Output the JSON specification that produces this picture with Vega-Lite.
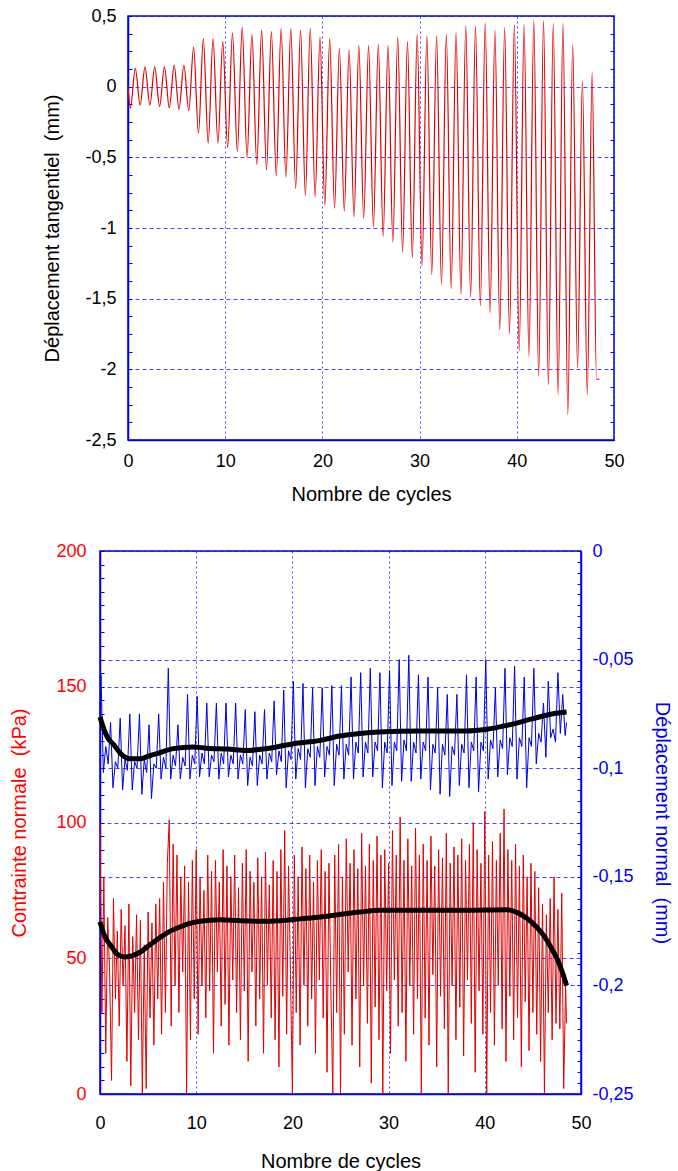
{
  "$schema": "https://vega.github.io/schema/vega-lite/v6.json",
  "padding": {"left": 2, "top": 6, "right": 0, "bottom": 0},
  "autosize": {"type": "pad"},
  "background": "white",
  "columns": 2,
  "align": "none",
  "spacing": {"row": 36, "column": 0},
  "config": {
    "font": "Liberation Sans",
    "view": {"stroke": "#0000ee", "strokeWidth": 1.5},
    "axis": {"labelFontSize": 18, "titleFontSize": 20, "titleFontWeight": "normal", "domainColor": "#0000ee", "domainWidth": 1.5, "tickColor": "#0000ee", "tickWidth": 1, "tickSize": 0, "gridColor": "#1a1aff", "gridWidth": 1, "labelColor": "black", "titleColor": "black", "labelFlush": false, "labelOverlap": false}
  },
  "datasets": {
    "top": [
      {"c": 0, "v": 0.0}, {"c": 0.25, "v": -0.15}, {"c": 0.75, "v": 0.13},
      {"c": 1.25, "v": -0.13}, {"c": 1.75, "v": 0.14},
      {"c": 2.25, "v": -0.13}, {"c": 2.75, "v": 0.14},
      {"c": 3.25, "v": -0.14}, {"c": 3.75, "v": 0.14},
      {"c": 4.25, "v": -0.15}, {"c": 4.75, "v": 0.15},
      {"c": 5.25, "v": -0.16}, {"c": 5.75, "v": 0.15},
      {"c": 6.25, "v": -0.17}, {"c": 6.75, "v": 0.28},
      {"c": 7.25, "v": -0.33}, {"c": 7.75, "v": 0.34},
      {"c": 8.25, "v": -0.40}, {"c": 8.75, "v": 0.34},
      {"c": 9.25, "v": -0.40}, {"c": 9.75, "v": 0.32},
      {"c": 10.25, "v": -0.43}, {"c": 10.75, "v": 0.38},
      {"c": 11.25, "v": -0.46}, {"c": 11.75, "v": 0.42},
      {"c": 12.25, "v": -0.50}, {"c": 12.75, "v": 0.37},
      {"c": 13.25, "v": -0.55}, {"c": 13.75, "v": 0.40},
      {"c": 14.25, "v": -0.59}, {"c": 14.75, "v": 0.39},
      {"c": 15.25, "v": -0.63}, {"c": 15.75, "v": 0.41},
      {"c": 16.25, "v": -0.64}, {"c": 16.75, "v": 0.41},
      {"c": 17.25, "v": -0.72}, {"c": 17.75, "v": 0.40},
      {"c": 18.25, "v": -0.77}, {"c": 18.75, "v": 0.41},
      {"c": 19.25, "v": -0.78}, {"c": 19.75, "v": 0.35},
      {"c": 20.25, "v": -0.84}, {"c": 20.75, "v": 0.34},
      {"c": 21.25, "v": -0.86}, {"c": 21.75, "v": 0.27},
      {"c": 22.25, "v": -0.88}, {"c": 22.75, "v": 0.26},
      {"c": 23.25, "v": -0.92}, {"c": 23.75, "v": 0.29},
      {"c": 24.25, "v": -0.93}, {"c": 24.75, "v": 0.29},
      {"c": 25.25, "v": -0.99}, {"c": 25.75, "v": 0.30},
      {"c": 26.25, "v": -1.06}, {"c": 26.75, "v": 0.29},
      {"c": 27.25, "v": -1.10}, {"c": 27.75, "v": 0.35},
      {"c": 28.25, "v": -1.17}, {"c": 28.75, "v": 0.32},
      {"c": 29.25, "v": -1.21}, {"c": 29.75, "v": 0.37},
      {"c": 30.25, "v": -1.27}, {"c": 30.75, "v": 0.36},
      {"c": 31.25, "v": -1.33}, {"c": 31.75, "v": 0.36},
      {"c": 32.25, "v": -1.40}, {"c": 32.75, "v": 0.37},
      {"c": 33.25, "v": -1.43}, {"c": 33.75, "v": 0.38},
      {"c": 34.25, "v": -1.47}, {"c": 34.75, "v": 0.43},
      {"c": 35.25, "v": -1.49}, {"c": 35.75, "v": 0.43},
      {"c": 36.25, "v": -1.55}, {"c": 36.75, "v": 0.45},
      {"c": 37.25, "v": -1.60}, {"c": 37.75, "v": 0.40},
      {"c": 38.25, "v": -1.72}, {"c": 38.75, "v": 0.42},
      {"c": 39.25, "v": -1.75}, {"c": 39.75, "v": 0.44},
      {"c": 40.25, "v": -1.87}, {"c": 40.75, "v": 0.44},
      {"c": 41.25, "v": -1.91}, {"c": 41.75, "v": 0.47},
      {"c": 42.25, "v": -2.05}, {"c": 42.75, "v": 0.47},
      {"c": 43.25, "v": -2.11}, {"c": 43.75, "v": 0.45},
      {"c": 44.25, "v": -2.18}, {"c": 44.75, "v": 0.45},
      {"c": 45.25, "v": -2.32}, {"c": 45.75, "v": 0.30},
      {"c": 46.25, "v": -1.99}, {"c": 46.75, "v": 0.04},
      {"c": 47.25, "v": -2.18}, {"c": 47.75, "v": 0.10},
      {"c": 48.2, "v": -2.07}, {"c": 48.5, "v": -2.07}
    ],
    "stress": [
      {"c": 0.0, "s": 100}, {"c": 0.2, "s": 30}, {"c": 0.4, "s": 80}, {"c": 0.6, "s": 15}, {"c": 0.8, "s": 65},
      {"c": 1.0, "s": 45}, {"c": 1.2, "s": 5}, {"c": 1.4, "s": 72}, {"c": 1.6, "s": 35}, {"c": 1.8, "s": 60},
      {"c": 2.0, "s": 25}, {"c": 2.2, "s": 68}, {"c": 2.4, "s": 40}, {"c": 2.6, "s": 62}, {"c": 2.8, "s": 12},
      {"c": 3.0, "s": 70}, {"c": 3.2, "s": 3}, {"c": 3.4, "s": 58}, {"c": 3.6, "s": 30}, {"c": 3.8, "s": 66},
      {"c": 4.0, "s": 20}, {"c": 4.2, "s": 64}, {"c": 4.4, "s": 0}, {"c": 4.6, "s": 55}, {"c": 4.8, "s": 2},
      {"c": 5.0, "s": 67}, {"c": 5.2, "s": 28}, {"c": 5.4, "s": 63}, {"c": 5.6, "s": 18}, {"c": 5.8, "s": 70},
      {"c": 6.0, "s": 35}, {"c": 6.2, "s": 72}, {"c": 6.4, "s": 22}, {"c": 6.6, "s": 78}, {"c": 6.8, "s": 30},
      {"c": 7.0, "s": 85}, {"c": 7.2, "s": 101}, {"c": 7.4, "s": 25}, {"c": 7.6, "s": 92}, {"c": 7.8, "s": 40},
      {"c": 8.0, "s": 88}, {"c": 8.2, "s": 30}, {"c": 8.4, "s": 80}, {"c": 8.6, "s": 45}, {"c": 8.8, "s": 84},
      {"c": 9.0, "s": 0}, {"c": 9.2, "s": 78}, {"c": 9.4, "s": 20}, {"c": 9.6, "s": 86}, {"c": 9.8, "s": 35},
      {"c": 10.0, "s": 90}, {"c": 10.2, "s": 22}, {"c": 10.4, "s": 80}, {"c": 10.6, "s": 40}, {"c": 10.8, "s": 75},
      {"c": 11.0, "s": 28}, {"c": 11.2, "s": 88}, {"c": 11.4, "s": 38}, {"c": 11.6, "s": 82}, {"c": 11.8, "s": 15},
      {"c": 12.0, "s": 86}, {"c": 12.2, "s": 45}, {"c": 12.4, "s": 78}, {"c": 12.6, "s": 25}, {"c": 12.8, "s": 90},
      {"c": 13.0, "s": 33}, {"c": 13.2, "s": 84}, {"c": 13.4, "s": 18}, {"c": 13.6, "s": 80}, {"c": 13.8, "s": 42},
      {"c": 14.0, "s": 88}, {"c": 14.2, "s": 30}, {"c": 14.4, "s": 76}, {"c": 14.6, "s": 20}, {"c": 14.8, "s": 85},
      {"c": 15.0, "s": 38}, {"c": 15.2, "s": 90}, {"c": 15.4, "s": 12}, {"c": 15.6, "s": 82}, {"c": 15.8, "s": 45},
      {"c": 16.0, "s": 78}, {"c": 16.2, "s": 25}, {"c": 16.4, "s": 87}, {"c": 16.6, "s": 35}, {"c": 16.8, "s": 80},
      {"c": 17.0, "s": 15}, {"c": 17.2, "s": 89}, {"c": 17.4, "s": 40}, {"c": 17.6, "s": 77}, {"c": 17.8, "s": 28},
      {"c": 18.0, "s": 86}, {"c": 18.2, "s": 20}, {"c": 18.4, "s": 82}, {"c": 18.6, "s": 10}, {"c": 18.8, "s": 90},
      {"c": 19.0, "s": 36}, {"c": 19.2, "s": 97}, {"c": 19.4, "s": 22}, {"c": 19.6, "s": 84}, {"c": 19.8, "s": 44},
      {"c": 20.0, "s": 0}, {"c": 20.2, "s": 88}, {"c": 20.4, "s": 30}, {"c": 20.6, "s": 80}, {"c": 20.8, "s": 18},
      {"c": 21.0, "s": 91}, {"c": 21.2, "s": 40}, {"c": 21.4, "s": 83}, {"c": 21.6, "s": 25}, {"c": 21.8, "s": 88},
      {"c": 22.0, "s": 35}, {"c": 22.2, "s": 78}, {"c": 22.4, "s": 15}, {"c": 22.6, "s": 86}, {"c": 22.8, "s": 42},
      {"c": 23.0, "s": 90}, {"c": 23.2, "s": 28}, {"c": 23.4, "s": 82}, {"c": 23.6, "s": 8}, {"c": 23.8, "s": 85},
      {"c": 24.0, "s": 38}, {"c": 24.2, "s": 0}, {"c": 24.4, "s": 88}, {"c": 24.6, "s": 30}, {"c": 24.8, "s": 92},
      {"c": 25.0, "s": 0}, {"c": 25.2, "s": 80}, {"c": 25.4, "s": 22}, {"c": 25.6, "s": 94}, {"c": 25.8, "s": 45},
      {"c": 26.0, "s": 85}, {"c": 26.2, "s": 18}, {"c": 26.4, "s": 90}, {"c": 26.6, "s": 35}, {"c": 26.8, "s": 83},
      {"c": 27.0, "s": 10}, {"c": 27.2, "s": 96}, {"c": 27.4, "s": 40}, {"c": 27.6, "s": 84}, {"c": 27.8, "s": 26},
      {"c": 28.0, "s": 92}, {"c": 28.2, "s": 4}, {"c": 28.4, "s": 86}, {"c": 28.6, "s": 32}, {"c": 28.8, "s": 95},
      {"c": 29.0, "s": 20}, {"c": 29.2, "s": 88}, {"c": 29.4, "s": 0}, {"c": 29.6, "s": 90}, {"c": 29.8, "s": 38},
      {"c": 30.0, "s": 85}, {"c": 30.2, "s": 15}, {"c": 30.4, "s": 97}, {"c": 30.6, "s": 42}, {"c": 30.8, "s": 88},
      {"c": 31.0, "s": 25}, {"c": 31.2, "s": 102}, {"c": 31.4, "s": 30}, {"c": 31.6, "s": 86}, {"c": 31.8, "s": 12},
      {"c": 32.0, "s": 94}, {"c": 32.2, "s": 40}, {"c": 32.4, "s": 84}, {"c": 32.6, "s": 22}, {"c": 32.8, "s": 98},
      {"c": 33.0, "s": 35}, {"c": 33.2, "s": 88}, {"c": 33.4, "s": 0}, {"c": 33.6, "s": 92}, {"c": 33.8, "s": 28},
      {"c": 34.0, "s": 86}, {"c": 34.2, "s": 18}, {"c": 34.4, "s": 95}, {"c": 34.6, "s": 44}, {"c": 34.8, "s": 84},
      {"c": 35.0, "s": 10}, {"c": 35.2, "s": 90}, {"c": 35.4, "s": 36}, {"c": 35.6, "s": 87}, {"c": 35.8, "s": 24},
      {"c": 36.0, "s": 96}, {"c": 36.2, "s": 0}, {"c": 36.4, "s": 85}, {"c": 36.6, "s": 40}, {"c": 36.8, "s": 91},
      {"c": 37.0, "s": 20}, {"c": 37.2, "s": 88}, {"c": 37.4, "s": 32}, {"c": 37.6, "s": 94}, {"c": 37.8, "s": 14},
      {"c": 38.0, "s": 86}, {"c": 38.2, "s": 42}, {"c": 38.4, "s": 92}, {"c": 38.6, "s": 26}, {"c": 38.8, "s": 100},
      {"c": 39.0, "s": 8}, {"c": 39.2, "s": 90}, {"c": 39.4, "s": 38}, {"c": 39.6, "s": 85}, {"c": 39.8, "s": 22},
      {"c": 40.0, "s": 104}, {"c": 40.2, "s": 0}, {"c": 40.4, "s": 88}, {"c": 40.6, "s": 30}, {"c": 40.8, "s": 93},
      {"c": 41.0, "s": 18}, {"c": 41.2, "s": 86}, {"c": 41.4, "s": 40}, {"c": 41.6, "s": 96}, {"c": 41.8, "s": 24},
      {"c": 42.0, "s": 105}, {"c": 42.2, "s": 12}, {"c": 42.4, "s": 90}, {"c": 42.6, "s": 36}, {"c": 42.8, "s": 86},
      {"c": 43.0, "s": 20}, {"c": 43.2, "s": 92}, {"c": 43.4, "s": 28}, {"c": 43.6, "s": 84}, {"c": 43.8, "s": 10},
      {"c": 44.0, "s": 88}, {"c": 44.2, "s": 34}, {"c": 44.4, "s": 80}, {"c": 44.6, "s": 16}, {"c": 44.8, "s": 85},
      {"c": 45.0, "s": 30}, {"c": 45.2, "s": 82}, {"c": 45.4, "s": 22}, {"c": 45.6, "s": 76}, {"c": 45.8, "s": 12},
      {"c": 46.0, "s": 70}, {"c": 46.2, "s": 0}, {"c": 46.4, "s": 66}, {"c": 46.6, "s": 30}, {"c": 46.8, "s": 72},
      {"c": 47.0, "s": 20}, {"c": 47.2, "s": 80}, {"c": 47.4, "s": 26}, {"c": 47.6, "s": 68}, {"c": 47.8, "s": 24},
      {"c": 48.0, "s": 74}, {"c": 48.2, "s": 2}, {"c": 48.4, "s": 40}, {"c": 48.5, "s": 26}
    ],
    "fitS": [
      {"c": 0, "s": 63.4}, {"c": 0.5, "s": 58}, {"c": 1.1, "s": 54.8}, {"c": 1.8, "s": 51.5}, {"c": 2.5, "s": 50.5},
      {"c": 3.2, "s": 50.8}, {"c": 4.2, "s": 52.3}, {"c": 5.2, "s": 55}, {"c": 6.3, "s": 57.8}, {"c": 7.3, "s": 60},
      {"c": 8.3, "s": 61.5}, {"c": 9.3, "s": 62.8}, {"c": 10.4, "s": 63.6}, {"c": 12.5, "s": 64.2}, {"c": 14.6, "s": 63.8},
      {"c": 16.7, "s": 63.6}, {"c": 18.7, "s": 63.8}, {"c": 20.8, "s": 64.5}, {"c": 22.9, "s": 65.2}, {"c": 24.9, "s": 66.1},
      {"c": 27, "s": 67}, {"c": 29, "s": 67.7}, {"c": 33.2, "s": 67.7}, {"c": 38, "s": 67.7}, {"c": 42.3, "s": 67.9},
      {"c": 43.4, "s": 66.8}, {"c": 44.4, "s": 64.6}, {"c": 45.3, "s": 61.8}, {"c": 46.1, "s": 58.5}, {"c": 46.8, "s": 54.5},
      {"c": 47.5, "s": 49.9}, {"c": 48, "s": 45.5}, {"c": 48.5, "s": 40.0}
    ],
    "disp": [
      {"c": 0, "d": -0.075},
      {"c": 0.1, "d": -0.057}, {"c": 0.35, "d": -0.102}, {"c": 0.6, "d": -0.090}, {"c": 0.85, "d": -0.098},
      {"c": 1.1, "d": -0.079}, {"c": 1.35, "d": -0.109}, {"c": 1.6, "d": -0.097}, {"c": 1.85, "d": -0.100},
      {"c": 2.1, "d": -0.077}, {"c": 2.35, "d": -0.110}, {"c": 2.6, "d": -0.096}, {"c": 2.85, "d": -0.101},
      {"c": 3.1, "d": -0.075}, {"c": 3.35, "d": -0.110}, {"c": 3.6, "d": -0.097}, {"c": 3.85, "d": -0.100},
      {"c": 4.1, "d": -0.075}, {"c": 4.35, "d": -0.112}, {"c": 4.6, "d": -0.096}, {"c": 4.85, "d": -0.102},
      {"c": 5.1, "d": -0.080}, {"c": 5.35, "d": -0.114}, {"c": 5.6, "d": -0.098}, {"c": 5.85, "d": -0.100},
      {"c": 6.1, "d": -0.075}, {"c": 6.35, "d": -0.105}, {"c": 6.6, "d": -0.095}, {"c": 6.85, "d": -0.100},
      {"c": 7.1, "d": -0.054}, {"c": 7.35, "d": -0.105}, {"c": 7.6, "d": -0.094}, {"c": 7.85, "d": -0.099},
      {"c": 8.1, "d": -0.080}, {"c": 8.35, "d": -0.105}, {"c": 8.6, "d": -0.095}, {"c": 8.85, "d": -0.099},
      {"c": 9.1, "d": -0.066}, {"c": 9.35, "d": -0.105}, {"c": 9.6, "d": -0.094}, {"c": 9.85, "d": -0.098},
      {"c": 10.1, "d": -0.067}, {"c": 10.35, "d": -0.104}, {"c": 10.6, "d": -0.093}, {"c": 10.85, "d": -0.098},
      {"c": 11.1, "d": -0.070}, {"c": 11.35, "d": -0.104}, {"c": 11.6, "d": -0.094}, {"c": 11.85, "d": -0.097},
      {"c": 12.1, "d": -0.070}, {"c": 12.35, "d": -0.105}, {"c": 12.6, "d": -0.093}, {"c": 12.85, "d": -0.098},
      {"c": 13.1, "d": -0.070}, {"c": 13.35, "d": -0.104}, {"c": 13.6, "d": -0.094}, {"c": 13.85, "d": -0.098},
      {"c": 14.1, "d": -0.070}, {"c": 14.35, "d": -0.105}, {"c": 14.6, "d": -0.094}, {"c": 14.85, "d": -0.098},
      {"c": 15.1, "d": -0.073}, {"c": 15.35, "d": -0.108}, {"c": 15.6, "d": -0.095}, {"c": 15.85, "d": -0.099},
      {"c": 16.1, "d": -0.074}, {"c": 16.35, "d": -0.108}, {"c": 16.6, "d": -0.094}, {"c": 16.85, "d": -0.098},
      {"c": 17.1, "d": -0.073}, {"c": 17.35, "d": -0.105}, {"c": 17.6, "d": -0.093}, {"c": 17.85, "d": -0.097},
      {"c": 18.1, "d": -0.069}, {"c": 18.35, "d": -0.103}, {"c": 18.6, "d": -0.092}, {"c": 18.85, "d": -0.097},
      {"c": 19.1, "d": -0.064}, {"c": 19.35, "d": -0.109}, {"c": 19.6, "d": -0.092}, {"c": 19.85, "d": -0.096},
      {"c": 20.1, "d": -0.060}, {"c": 20.35, "d": -0.105}, {"c": 20.6, "d": -0.091}, {"c": 20.85, "d": -0.096},
      {"c": 21.1, "d": -0.061}, {"c": 21.35, "d": -0.109}, {"c": 21.6, "d": -0.091}, {"c": 21.85, "d": -0.095},
      {"c": 22.1, "d": -0.063}, {"c": 22.35, "d": -0.108}, {"c": 22.6, "d": -0.090}, {"c": 22.85, "d": -0.095},
      {"c": 23.1, "d": -0.063}, {"c": 23.35, "d": -0.104}, {"c": 23.6, "d": -0.090}, {"c": 23.85, "d": -0.094},
      {"c": 24.1, "d": -0.062}, {"c": 24.35, "d": -0.108}, {"c": 24.6, "d": -0.089}, {"c": 24.85, "d": -0.094},
      {"c": 25.1, "d": -0.062}, {"c": 25.35, "d": -0.105}, {"c": 25.6, "d": -0.089}, {"c": 25.85, "d": -0.094},
      {"c": 26.1, "d": -0.058}, {"c": 26.35, "d": -0.105}, {"c": 26.6, "d": -0.088}, {"c": 26.85, "d": -0.093},
      {"c": 27.1, "d": -0.056}, {"c": 27.35, "d": -0.104}, {"c": 27.6, "d": -0.088}, {"c": 27.85, "d": -0.093},
      {"c": 28.1, "d": -0.054}, {"c": 28.35, "d": -0.104}, {"c": 28.6, "d": -0.088}, {"c": 28.85, "d": -0.092},
      {"c": 29.1, "d": -0.056}, {"c": 29.35, "d": -0.109}, {"c": 29.6, "d": -0.088}, {"c": 29.85, "d": -0.093},
      {"c": 30.1, "d": -0.055}, {"c": 30.35, "d": -0.108}, {"c": 30.6, "d": -0.088}, {"c": 30.85, "d": -0.092},
      {"c": 31.1, "d": -0.050}, {"c": 31.35, "d": -0.106}, {"c": 31.6, "d": -0.087}, {"c": 31.85, "d": -0.092},
      {"c": 32.1, "d": -0.048}, {"c": 32.35, "d": -0.106}, {"c": 32.6, "d": -0.088}, {"c": 32.85, "d": -0.093},
      {"c": 33.1, "d": -0.057}, {"c": 33.35, "d": -0.105}, {"c": 33.6, "d": -0.088}, {"c": 33.85, "d": -0.092},
      {"c": 34.1, "d": -0.058}, {"c": 34.35, "d": -0.110}, {"c": 34.6, "d": -0.089}, {"c": 34.85, "d": -0.093},
      {"c": 35.1, "d": -0.063}, {"c": 35.35, "d": -0.112}, {"c": 35.6, "d": -0.089}, {"c": 35.85, "d": -0.094},
      {"c": 36.1, "d": -0.066}, {"c": 36.35, "d": -0.113}, {"c": 36.6, "d": -0.090}, {"c": 36.85, "d": -0.094},
      {"c": 37.1, "d": -0.066}, {"c": 37.35, "d": -0.108}, {"c": 37.6, "d": -0.089}, {"c": 37.85, "d": -0.093},
      {"c": 38.1, "d": -0.057}, {"c": 38.35, "d": -0.109}, {"c": 38.6, "d": -0.088}, {"c": 38.85, "d": -0.092},
      {"c": 39.1, "d": -0.058}, {"c": 39.35, "d": -0.111}, {"c": 39.6, "d": -0.088}, {"c": 39.85, "d": -0.092},
      {"c": 40.1, "d": -0.050}, {"c": 40.35, "d": -0.105}, {"c": 40.6, "d": -0.087}, {"c": 40.85, "d": -0.091},
      {"c": 41.1, "d": -0.063}, {"c": 41.35, "d": -0.104}, {"c": 41.6, "d": -0.087}, {"c": 41.85, "d": -0.091},
      {"c": 42.1, "d": -0.054}, {"c": 42.35, "d": -0.103}, {"c": 42.6, "d": -0.086}, {"c": 42.85, "d": -0.090},
      {"c": 43.1, "d": -0.053}, {"c": 43.35, "d": -0.105}, {"c": 43.6, "d": -0.086}, {"c": 43.85, "d": -0.090},
      {"c": 44.1, "d": -0.058}, {"c": 44.35, "d": -0.109}, {"c": 44.6, "d": -0.086}, {"c": 44.85, "d": -0.090},
      {"c": 45.1, "d": -0.054}, {"c": 45.35, "d": -0.098}, {"c": 45.6, "d": -0.084}, {"c": 45.85, "d": -0.088},
      {"c": 46.1, "d": -0.070}, {"c": 46.35, "d": -0.095}, {"c": 46.6, "d": -0.060}, {"c": 46.85, "d": -0.086},
      {"c": 47.1, "d": -0.082}, {"c": 47.35, "d": -0.088}, {"c": 47.6, "d": -0.056}, {"c": 47.85, "d": -0.084},
      {"c": 48.1, "d": -0.066}, {"c": 48.35, "d": -0.085}, {"c": 48.5, "d": -0.079}
    ],
    "fitD": [
      {"c": 0, "d": -0.0764}, {"c": 0.4, "d": -0.082}, {"c": 0.8, "d": -0.086}, {"c": 1.4, "d": -0.089}, {"c": 2.2, "d": -0.0935},
      {"c": 3.1, "d": -0.0956}, {"c": 4.2, "d": -0.0956}, {"c": 5.0, "d": -0.0945}, {"c": 5.9, "d": -0.0933}, {"c": 7.6, "d": -0.091},
      {"c": 9.7, "d": -0.0902}, {"c": 11.1, "d": -0.0908}, {"c": 13.2, "d": -0.0912}, {"c": 15.3, "d": -0.0918}, {"c": 17.3, "d": -0.091},
      {"c": 20.1, "d": -0.0887}, {"c": 22.9, "d": -0.0872}, {"c": 24.9, "d": -0.0852}, {"c": 27, "d": -0.084}, {"c": 29, "d": -0.0833},
      {"c": 33.2, "d": -0.0829}, {"c": 38, "d": -0.0829}, {"c": 40.2, "d": -0.0821}, {"c": 42.3, "d": -0.0803}, {"c": 45, "d": -0.0772},
      {"c": 47.1, "d": -0.0749}, {"c": 48.5, "d": -0.0741}
    ],
    "none": [{"k": 0}]
  },
  "concat": [
    {
      "width": 1,
      "height": 1,
      "view": {"stroke": null},
      "data": {"name": "none"},
      "mark": {"type": "point", "opacity": 0}
    },
    {
      "width": 486,
      "height": 424,
      "layer": [
        {
          "data": {"name": "top"},
          "mark": {"type": "line", "color": "#e00000", "strokeWidth": 1.2, "interpolate": "monotone"},
          "encoding": {
            "x": {"field": "c", "type": "quantitative", "scale": {"domain": [0, 50], "nice": false},
              "axis": {"orient": "bottom", "values": [0, 10, 20, 30, 40, 50], "title": "Nombre de cycles", "grid": true, "gridOpacity": 0.8, "gridDash": [2, 3], "labelPadding": 12, "titlePadding": 14}},
            "y": {"field": "v", "type": "quantitative", "scale": {"domain": [-2.5, 0.5], "nice": false},
              "axis": {"orient": "left", "values": [-2.5, -2.375, -2.25, -2.125, -2, -1.875, -1.75, -1.625, -1.5, -1.375, -1.25, -1.125, -1, -0.875, -0.75, -0.625, -0.5, -0.375, -0.25, -0.125, 0, 0.125, 0.25, 0.375, 0.5],
                "labelExpr": "abs(datum.value * 2 - round(datum.value * 2)) < 0.001 ? replace(toString(datum.value), '.', ',') : ''",
                "title": "Déplacement tangentiel\u00a0 (mm)", "grid": true, "gridDash": [4, 3],
                "gridOpacity": {"condition": {"test": "abs(datum.value * 2 - round(datum.value * 2)) < 0.001", "value": 0.8}, "value": 0},
                "tickSize": -4, "labelPadding": 16, "titlePadding": 22}}
          }
        },
        {
          "data": {"name": "top"},
          "mark": {"type": "line", "opacity": 0},
          "encoding": {
            "x": {"field": "c", "type": "quantitative", "scale": {"domain": [0, 50], "nice": false},
              "axis": {"orient": "bottom", "values": [0, 10, 20, 30, 40, 50], "title": "Nombre de cycles", "grid": true, "gridOpacity": 0.8, "gridDash": [2, 3], "labelPadding": 12, "titlePadding": 14}},
            "y": {"field": "v", "type": "quantitative",
              "axis": {"orient": "left", "labels": false, "ticks": false, "domain": false, "grid": false, "title": "x", "titleOpacity": 0, "titlePadding": 98}}
          }
        },
        {
          "data": {"name": "top"},
          "mark": {"type": "line", "opacity": 0},
          "encoding": {
            "x": {"field": "c", "type": "quantitative", "scale": {"domain": [0, 50], "nice": false},
              "axis": {"orient": "bottom", "values": [0, 10, 20, 30, 40, 50], "title": "Nombre de cycles", "grid": true, "gridOpacity": 0.8, "gridDash": [2, 3], "labelPadding": 12, "titlePadding": 14}},
            "y": {"field": "v", "type": "quantitative",
              "axis": {"orient": "right", "values": [-2.5, -2.375, -2.25, -2.125, -2, -1.875, -1.75, -1.625, -1.5, -1.375, -1.25, -1.125, -1, -0.875, -0.75, -0.625, -0.5, -0.375, -0.25, -0.125, 0, 0.125, 0.25, 0.375, 0.5],
                "labels": false, "domain": false, "grid": false, "tickSize": -4, "title": null}}
          }
        }
      ],
      "resolve": {"axis": {"y": "independent"}}
    },
    {
      "width": 1,
      "height": 1,
      "view": {"stroke": null},
      "data": {"name": "none"},
      "mark": {"type": "point", "opacity": 0}
    },
    {
      "width": 481,
      "height": 543,
      "layer": [
        {
          "layer": [
            {
              "data": {"name": "stress"},
              "mark": {"type": "line", "color": "#e00000", "strokeWidth": 1},
              "encoding": {
                "x": {"field": "c", "type": "quantitative", "scale": {"domain": [0, 50], "nice": false},
                  "axis": {"orient": "bottom", "values": [0, 10, 20, 30, 40, 50], "title": "Nombre de cycles", "grid": true, "gridOpacity": 0.8, "gridDash": [2, 3], "labelPadding": 20, "titlePadding": 19}},
                "y": {"field": "s", "type": "quantitative", "scale": {"domain": [0, 200], "nice": false},
                  "axis": {"orient": "left", "values": [0, 5, 10, 15, 20, 25, 30, 35, 40, 45, 50, 55, 60, 65, 70, 75, 80, 85, 90, 95, 100, 105, 110, 115, 120, 125, 130, 135, 140, 145, 150, 155, 160, 165, 170, 175, 180, 185, 190, 195, 200],
                    "labelExpr": "datum.value % 50 == 0 ? toString(datum.value) : ''",
                    "title": "Contrainte normale\u00a0 (kPa)", "labelColor": "#ff0000", "titleColor": "#ff0000", "grid": true, "gridDash": [4, 3],
                    "gridOpacity": {"condition": {"test": "datum.value % 50 == 0", "value": 0.8}, "value": 0},
                    "tickSize": -4, "labelPadding": 18, "titlePadding": 26}}
              }
            },
            {
              "data": {"name": "fitS"},
              "mark": {"type": "line", "color": "black", "strokeWidth": 5, "interpolate": "monotone"},
              "encoding": {
                "x": {"field": "c", "type": "quantitative", "scale": {"domain": [0, 50], "nice": false},
                  "axis": {"orient": "bottom", "values": [0, 10, 20, 30, 40, 50], "title": "Nombre de cycles", "grid": true, "gridOpacity": 0.8, "gridDash": [2, 3], "labelPadding": 20, "titlePadding": 19}},
                "y": {"field": "s", "type": "quantitative", "scale": {"domain": [0, 200], "nice": false},
                  "axis": {"orient": "left", "values": [0, 5, 10, 15, 20, 25, 30, 35, 40, 45, 50, 55, 60, 65, 70, 75, 80, 85, 90, 95, 100, 105, 110, 115, 120, 125, 130, 135, 140, 145, 150, 155, 160, 165, 170, 175, 180, 185, 190, 195, 200],
                    "labelExpr": "datum.value % 50 == 0 ? toString(datum.value) : ''",
                    "title": "Contrainte normale\u00a0 (kPa)", "labelColor": "#ff0000", "titleColor": "#ff0000", "grid": true, "gridDash": [4, 3],
                    "gridOpacity": {"condition": {"test": "datum.value % 50 == 0", "value": 0.8}, "value": 0},
                    "tickSize": -4, "labelPadding": 18, "titlePadding": 26}}
              }
            }
          ]
        },
        {
          "layer": [
            {
              "data": {"name": "disp"},
              "mark": {"type": "line", "color": "#0000dd", "strokeWidth": 1},
              "encoding": {
                "x": {"field": "c", "type": "quantitative", "scale": {"domain": [0, 50], "nice": false},
                  "axis": {"orient": "bottom", "values": [0, 10, 20, 30, 40, 50], "title": "Nombre de cycles", "grid": true, "gridOpacity": 0.8, "gridDash": [2, 3], "labelPadding": 20, "titlePadding": 19}},
                "y": {"field": "d", "type": "quantitative", "scale": {"domain": [-0.25, 0], "nice": false},
                  "axis": {"orient": "right", "values": [-0.25, -0.245, -0.24, -0.235, -0.23, -0.225, -0.22, -0.215, -0.21, -0.205, -0.2, -0.195, -0.19, -0.185, -0.18, -0.175, -0.17, -0.165, -0.16, -0.155, -0.15, -0.145, -0.14, -0.135, -0.13, -0.125, -0.12, -0.115, -0.11, -0.105, -0.1, -0.095, -0.09, -0.085, -0.08, -0.075, -0.07, -0.065, -0.06, -0.055, -0.05, -0.045, -0.04, -0.035, -0.03, -0.025, -0.02, -0.015, -0.01, -0.005, 0],
                    "labelExpr": "abs(datum.value * 20 - round(datum.value * 20)) < 0.001 ? replace(toString(datum.value), '.', ',') : ''",
                    "title": "Déplacement normal\u00a0 (mm)", "labelColor": "#0000ee", "titleColor": "#0000ee", "grid": true, "gridDash": [4, 3],
                    "gridOpacity": {"condition": {"test": "abs(datum.value * 20 - round(datum.value * 20)) < 0.001", "value": 0.8}, "value": 0},
                    "tickSize": -4, "labelPadding": 15, "titlePadding": 18}}
              }
            },
            {
              "data": {"name": "fitD"},
              "mark": {"type": "line", "color": "black", "strokeWidth": 5, "interpolate": "monotone"},
              "encoding": {
                "x": {"field": "c", "type": "quantitative", "scale": {"domain": [0, 50], "nice": false},
                  "axis": {"orient": "bottom", "values": [0, 10, 20, 30, 40, 50], "title": "Nombre de cycles", "grid": true, "gridOpacity": 0.8, "gridDash": [2, 3], "labelPadding": 20, "titlePadding": 19}},
                "y": {"field": "d", "type": "quantitative", "scale": {"domain": [-0.25, 0], "nice": false},
                  "axis": {"orient": "right", "values": [-0.25, -0.245, -0.24, -0.235, -0.23, -0.225, -0.22, -0.215, -0.21, -0.205, -0.2, -0.195, -0.19, -0.185, -0.18, -0.175, -0.17, -0.165, -0.16, -0.155, -0.15, -0.145, -0.14, -0.135, -0.13, -0.125, -0.12, -0.115, -0.11, -0.105, -0.1, -0.095, -0.09, -0.085, -0.08, -0.075, -0.07, -0.065, -0.06, -0.055, -0.05, -0.045, -0.04, -0.035, -0.03, -0.025, -0.02, -0.015, -0.01, -0.005, 0],
                    "labelExpr": "abs(datum.value * 20 - round(datum.value * 20)) < 0.001 ? replace(toString(datum.value), '.', ',') : ''",
                    "title": "Déplacement normal\u00a0 (mm)", "labelColor": "#0000ee", "titleColor": "#0000ee", "grid": true, "gridDash": [4, 3],
                    "gridOpacity": {"condition": {"test": "abs(datum.value * 20 - round(datum.value * 20)) < 0.001", "value": 0.8}, "value": 0},
                    "tickSize": -4, "labelPadding": 15, "titlePadding": 18}}
              }
            }
          ]
        }
      ],
      "resolve": {"scale": {"y": "independent"}, "axis": {"y": "independent"}}
    }
  ]
}
